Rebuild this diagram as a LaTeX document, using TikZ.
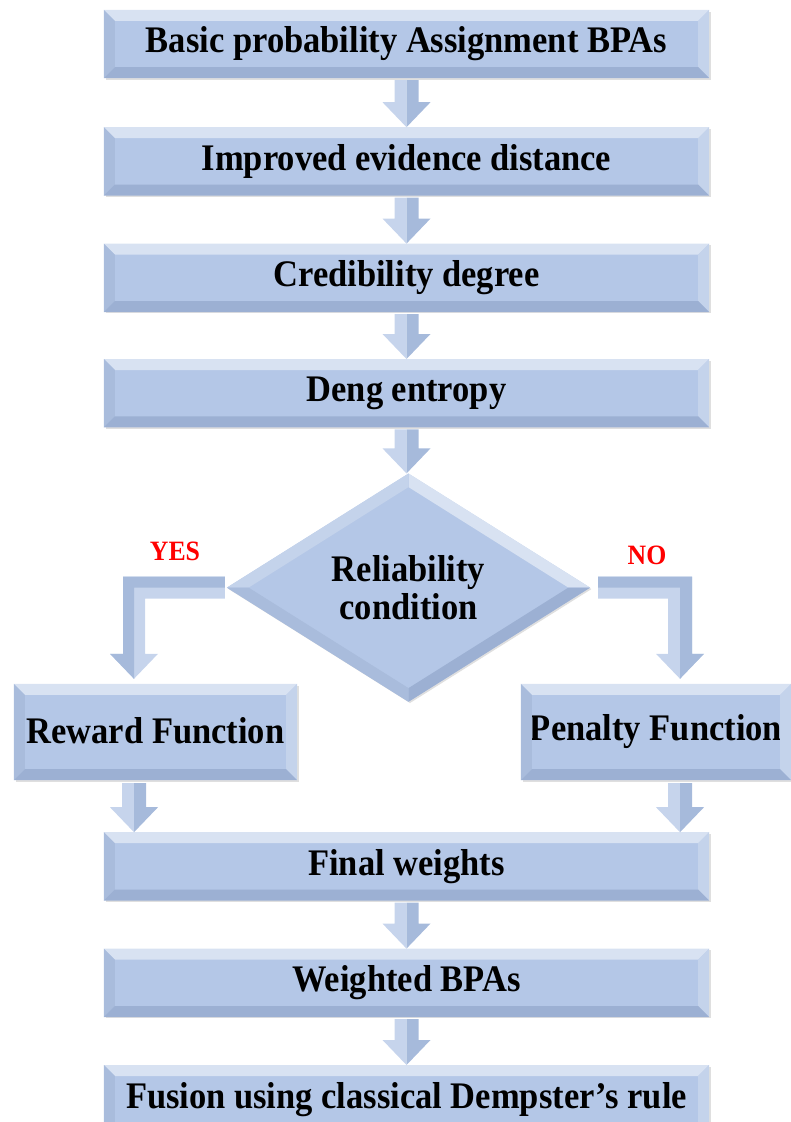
\documentclass[tikz,border=0pt]{standalone}
\usepackage{fontspec}
\setmainfont{Liberation Serif}[FakeStretch=0.92]
\usetikzlibrary{shapes.geometric,positioning,calc,shadows}
\definecolor{boxblue}{HTML}{B4C7E7}
\definecolor{boxtop}{HTML}{D8E2F2}
\definecolor{boxleft}{HTML}{A9BCDC}
\definecolor{boxright}{HTML}{C4D3EB}
\definecolor{boxbottom}{HTML}{9CB0D3}
\definecolor{arrowlight}{HTML}{C6D4EC}
\definecolor{arrowdark}{HTML}{A6BADB}
\newcommand{\bevelbox}[1]{%
\fill[boxtop] (#1.north west) -- (#1.north east) -- ([shift={(-11pt,-11pt)}]#1.north east) -- ([shift={(11pt,-11pt)}]#1.north west) -- cycle;
\fill[boxleft] (#1.north west) -- ([shift={(11pt,-11pt)}]#1.north west) -- ([shift={(11pt,11pt)}]#1.south west) -- (#1.south west) -- cycle;
\fill[boxright] (#1.north east) -- (#1.south east) -- ([shift={(-11pt,11pt)}]#1.south east) -- ([shift={(-11pt,-11pt)}]#1.north east) -- cycle;
\fill[boxbottom] (#1.south west) -- ([shift={(11pt,11pt)}]#1.south west) -- ([shift={(-11pt,11pt)}]#1.south east) -- (#1.south east) -- cycle;}
\newcommand{\beveldiamond}[1]{%
\fill[boxtop] (#1.north) -- (#1.east) -- ($(#1.center)!0.88!(#1.east)$) -- ($(#1.center)!0.88!(#1.north)$) -- cycle;
\fill[boxright] (#1.north) -- (#1.west) -- ($(#1.center)!0.88!(#1.west)$) -- ($(#1.center)!0.88!(#1.north)$) -- cycle;
\fill[boxleft] (#1.south) -- (#1.west) -- ($(#1.center)!0.88!(#1.west)$) -- ($(#1.center)!0.88!(#1.south)$) -- cycle;
\fill[boxbottom] (#1.south) -- (#1.east) -- ($(#1.center)!0.88!(#1.east)$) -- ($(#1.center)!0.88!(#1.south)$) -- cycle;}
\newcommand{\blockdown}[2]{%
\fill[arrowlight] let \p1=(#1), \p2=(#2) in
  (\x1-12pt,\y1) -- (\x1,\y1) -- (\x1,\y2) -- (\x1-24pt,\y2+25pt) -- (\x1-12pt,\y2+25pt) -- cycle;
\fill[arrowdark] let \p1=(#1), \p2=(#2) in
  (\x1,\y1) -- (\x1+12pt,\y1) -- (\x1+12pt,\y2+25pt) -- (\x1+24pt,\y2+25pt) -- (\x1,\y2) -- cycle;}
\tikzset{
  stage/.style={fill=boxblue, inner sep=0pt, minimum width=605pt, minimum height=68pt,
    font=\fontsize{37.5}{42}\selectfont\bfseries,
    drop shadow={shadow xshift=1.5pt, shadow yshift=-1.5pt, opacity=.25}},
  branch/.style={stage, minimum height=96pt},
  decision/.style={stage, diamond, aspect=1.59, minimum width=363pt, minimum height=228pt, align=center},
  answer/.style={text=red, font=\fontsize{28}{30}\selectfont\bfseries},
}
\begin{document}
\begin{tikzpicture}[x=1pt, y=-1pt]
\useasboundingbox (0,0) rectangle (791,1122);
\node[stage] (bpa) at (406.5,44) {Basic probability Assignment BPAs};
\node[stage, below=49pt of bpa] (dist) {Improved evidence distance};
\node[stage, below=48pt of dist] (cred) {Credibility degree};
\node[stage, below=47pt of cred] (deng) {Deng entropy};
\node[decision, below=46pt of deng, xshift=2pt] (cond) {Reliability\\[-4pt]condition};
\node[branch, minimum width=283pt] (reward) at (155.5,732) {\raisebox{4pt}{Reward Function}};
\node[branch, minimum width=270pt] (penalty) at (656,732) {\raisebox{4pt}{Penalty Function}};
\node[stage, below=52pt of bpa |- reward.south] (final) {Final weights};
\node[stage, below=48pt of final] (wbpa) {Weighted BPAs};
\node[stage, below=48pt of wbpa] (fusion) {Fusion using classical Dempster’s rule};
\foreach \b in {bpa,dist,cred,deng,reward,penalty,final,wbpa,fusion} {\bevelbox{\b}}
\beveldiamond{cond}
% straight flow arrows
\blockdown{[yshift=-2pt]bpa.south}{dist.north}
\blockdown{[yshift=-2pt]dist.south}{cred.north}
\blockdown{[yshift=-2pt]cred.south}{deng.north}
\blockdown{[yshift=-2pt]deng.south}{cond.north}
\blockdown{[xshift=-21.5pt, yshift=-3pt]reward.south}{final.north}
\blockdown{[xshift=24pt, yshift=-3pt]penalty.south}{final.north}
\blockdown{[yshift=-2pt]final.south}{wbpa.north}
\blockdown{[yshift=-2pt]wbpa.south}{fusion.north}
% elbow arrows of the decision
\fill[arrowlight] let \p1=(cond.west), \p2=([xshift=-21.5pt]reward.north) in
  (\x1-2pt,\y1+11pt) -- (\x2-11pt,\y1+11pt) -- (\x2-11pt,\y2+30pt) -- (\x2-24pt,\y2+30pt) -- (\x2,\y2+5pt)
  -- (\x2+24pt,\y2+30pt) -- (\x2+11pt,\y2+30pt) -- (\x2+11pt,\y1-11pt) -- (\x1-2pt,\y1-11pt) -- cycle;
\fill[arrowdark] let \p1=(cond.west), \p2=([xshift=-21.5pt]reward.north) in
  (\x1-2pt,\y1+11pt) -- (\x2-11pt,\y1+11pt) -- (\x2-11pt,\y2+30pt) -- (\x2-24pt,\y2+30pt) -- (\x2,\y2+5pt)
  -- (\x2,\y1) -- (\x1-2pt,\y1) -- cycle;
\fill[arrowlight] let \p1=(cond.east), \p2=([xshift=24pt]penalty.north) in
  (\x1+8pt,\y1+11pt) -- (\x2+12pt,\y1+11pt) -- (\x2+12pt,\y2+30pt) -- (\x2+24pt,\y2+30pt) -- (\x2,\y2+5pt)
  -- (\x2-24pt,\y2+30pt) -- (\x2-12pt,\y2+30pt) -- (\x2-12pt,\y1-11pt) -- (\x1+8pt,\y1-11pt) -- cycle;
\fill[arrowdark] let \p1=(cond.east), \p2=([xshift=24pt]penalty.north) in
  (\x1+8pt,\y1) -- (\x2,\y1) -- (\x2,\y2+5pt) -- (\x2+24pt,\y2+30pt) -- (\x2+12pt,\y2+30pt)
  -- (\x2+12pt,\y1+11pt) -- (\x1+8pt,\y1+11pt) -- cycle;
\node[answer] (yes) at (175,551) {YES};
\node[answer] (no) at (647,555) {NO};
\end{tikzpicture}
\end{document}
